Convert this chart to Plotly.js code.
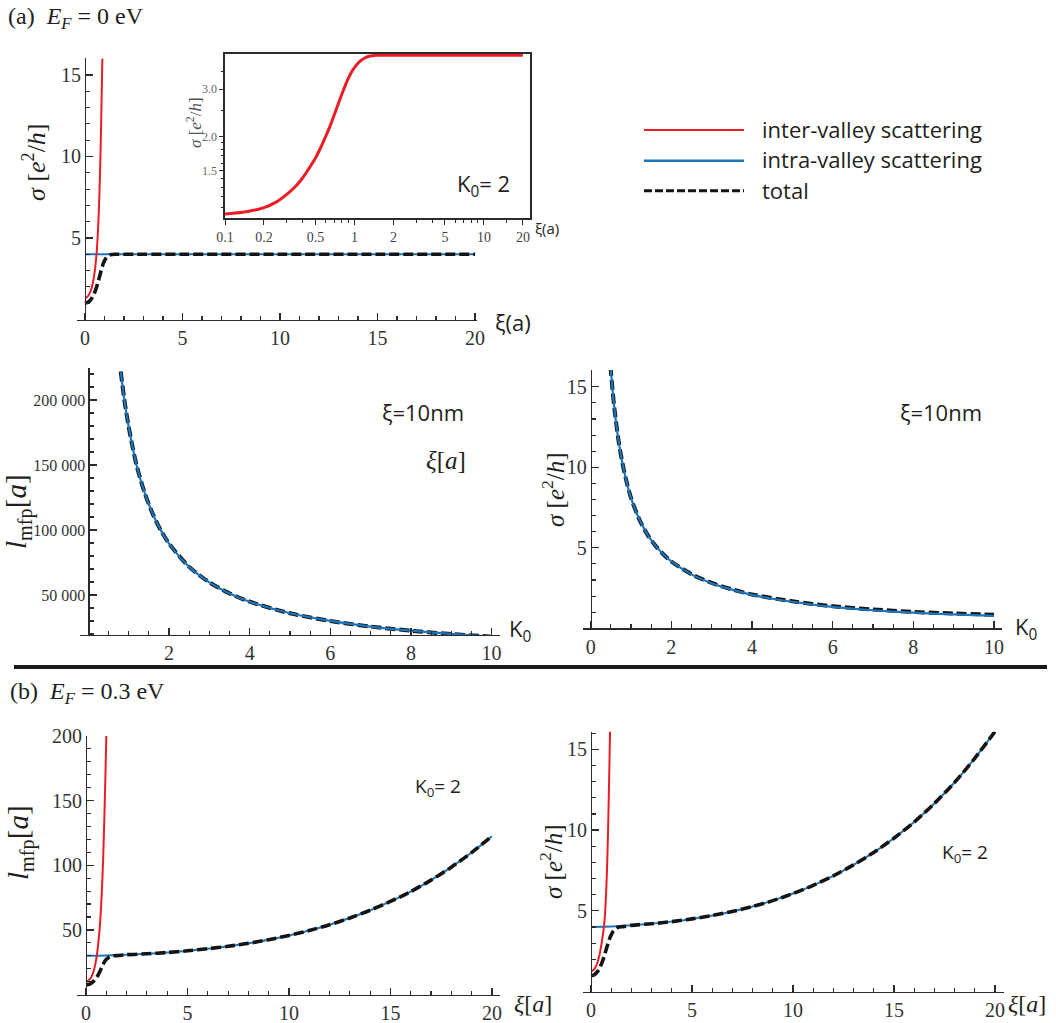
<!DOCTYPE html>
<html>
<head>
<meta charset="utf-8">
<script src="https://cdn.plot.ly/plotly-3.0.1.min.js"></script>
<style>
  html, body { margin: 0; padding: 0; background: #ffffff; }
  #chart { width: 1056px; height: 1023px; }
</style>
</head>
<body>
<div id="chart"></div>
<script>
// ---------- (a) E_F = 0 eV : sigma vs correlation length xi (K0 = 2) ----------
const xiInterA  = [0, 0.1, 0.2, 0.3, 0.4, 0.5, 0.6, 0.65, 0.7, 0.75, 0.8, 0.85, 0.89];
const sigInterA = [1.33, 1.37, 1.52, 1.78, 2.22, 2.96, 4.15, 5.1, 6.4, 8.1, 10.4, 13.4, 16.0];

const xiIntraA  = [0, 5, 10, 15, 20];
const sigIntraA = [4.0, 4.0, 4.0, 4.0, 4.0];

const xiTotalA  = [0, 0.1, 0.15, 0.2, 0.25, 0.3, 0.35, 0.4, 0.45, 0.5, 0.55, 0.6, 0.65, 0.7, 0.75,
                   0.8, 0.85, 0.9, 0.95, 1.0, 1.1, 1.2, 1.3, 1.4, 1.5, 1.7, 2, 3, 5, 10, 15, 20];
const sigTotalA = [1.0, 1.037, 1.06, 1.095, 1.15, 1.225, 1.31, 1.415, 1.54, 1.67, 1.83, 2.01, 2.20, 2.42, 2.65,
                   2.88, 3.10, 3.30, 3.47, 3.60, 3.80, 3.91, 3.97, 3.99, 4.0, 4.0, 4.0, 4.0, 4.0, 4.0, 4.0, 4.0];

// ---------- (a) K0 dependence at xi = 10 nm ----------
const k0L        = [0.8, 0.9, 1.0, 1.1, 1.2, 1.4, 1.6, 1.8, 2.0, 2.5, 3.0, 3.5, 4.0, 5.0, 6.0, 7.0, 8.0, 9.0, 10.0];
const lmfpIntraK = [222000, 198000, 179000, 163000, 149000, 128000, 112000, 99500, 89500, 71600, 59700,
                    51200, 44800, 35900, 30000, 25700, 22500, 20000, 17900];
const lmfpTotalK = [222000, 198000, 179000, 163000, 149000, 128000, 112000, 99500, 89500, 71600, 59700,
                    51200, 44800, 35900, 30000, 25700, 22500, 20000, 17900];

const k0S       = [0.49, 0.55, 0.6, 0.7, 0.8, 0.9, 1.0, 1.2, 1.4, 1.6, 1.8, 2.0, 2.5, 3.0, 3.5, 4.0,
                   5.0, 6.0, 7.0, 8.0, 9.0, 10.0];
const sigIntraK = [16.3, 14.6, 13.4, 11.5, 10.1, 9.0, 8.1, 6.8, 5.85, 5.15, 4.6, 4.15, 3.35, 2.8, 2.4, 2.08,
                   1.65, 1.33, 1.12, 0.97, 0.86, 0.77];
const sigTotalK = [16.3, 14.6, 13.4, 11.5, 10.1, 9.0, 8.1, 6.8, 5.85, 5.15, 4.6, 4.15, 3.36, 2.82, 2.42, 2.1,
                   1.68, 1.37, 1.17, 1.02, 0.92, 0.84];

// ---------- (b) E_F = 0.3 eV : l_mfp and sigma vs xi (K0 = 2) ----------
const xiInterB = [0, 0.1, 0.2, 0.3, 0.4, 0.5, 0.6, 0.7, 0.8, 0.85, 0.9, 0.95, 1.0];
const lInterB  = [10.0, 10.5, 12.0, 14.8, 19.5, 27.0, 39.0, 57.0, 87.0, 108.0, 135.0, 165.0, 200.0];

const xiInterBs = [0, 0.1, 0.2, 0.3, 0.4, 0.5, 0.6, 0.65, 0.7, 0.75, 0.8, 0.85, 0.9, 0.95];
const sigInterB = [1.27, 1.31, 1.45, 1.72, 2.15, 2.8, 3.6, 4.1, 4.9, 6.1, 7.8, 10.2, 13.2, 16.5];

const xiB       = [0, 1, 2, 3, 4, 5, 6, 7, 8, 9, 10, 11, 12, 13, 14, 15, 16, 17, 18, 19, 20];
const lIntraB   = [30.0, 30.2, 30.8, 31.5, 32.5, 33.8, 35.4, 37.3, 39.6, 42.4, 45.7, 49.5, 54.0, 59.2,
                   65.2, 72.0, 79.6, 88.5, 98.5, 109.8, 122.5];
const sigIntraB = [4.0, 4.03, 4.1, 4.2, 4.33, 4.5, 4.71, 4.96, 5.27, 5.63, 6.07, 6.58, 7.17, 7.85,
                   8.62, 9.5, 10.5, 11.65, 12.95, 14.45, 16.1];

const xiTotalB  = [0, 0.1, 0.2, 0.3, 0.4, 0.5, 0.6, 0.7, 0.8, 0.9, 1.0, 1.1, 1.2, 1.3, 1.4, 1.6,
                   2, 3, 4, 5, 6, 7, 8, 9, 10, 11, 12, 13, 14, 15, 16, 17, 18, 19, 20];
const lTotalB   = [7.6, 7.8, 8.3, 9.3, 10.7, 12.6, 15.2, 18.4, 21.9, 25.0, 27.2, 28.5, 29.3, 29.8, 30.0, 30.2,
                   30.8, 31.5, 32.5, 33.8, 35.4, 37.3, 39.6, 42.4, 45.7, 49.5, 54.0, 59.2, 65.2, 72.0,
                   79.6, 88.5, 98.5, 109.8, 122.5];
const sigTotalB = [0.97, 1.0, 1.07, 1.2, 1.38, 1.65, 1.98, 2.38, 2.8, 3.2, 3.5, 3.73, 3.88, 3.96, 4.0, 4.02,
                   4.1, 4.2, 4.33, 4.5, 4.71, 4.96, 5.27, 5.63, 6.07, 6.58, 7.17, 7.85, 8.62, 9.5,
                   10.5, 11.65, 12.95, 14.45, 16.1];

// ---------- inset tick labels ----------
const inXTicks = [0.1, 0.2, 0.5, 1, 2, 5, 10, 20];
const inXText  = ['0.1', '0.2', '0.5', '1', '2', '5', '10', '20'];
const inXMinor = [0.3, 0.4, 0.6, 0.7, 0.8, 0.9, 3, 4, 6, 7, 8, 9, 15];
const inYTicks = [1.5, 2.0, 3.0];
const inYText  = ['1.5', '2.0', '3.0'];
const inYMinor = [1.1, 1.2, 1.3, 1.4, 1.6, 1.7, 1.8, 1.9, 2.5, 3.5];

// ---------- styling helpers ----------
const W = 1056, H = 1023;
const fx = px => px / W;
const fy = py => 1 - py / H;
const RED = '#ec1c24', BLUE = '#1b75bc', BLACK = '#141414', AXC = '#2b2b2b';
const SERIF = 'Liberation Serif, DejaVu Serif, serif';
const SANS = 'Open Sans, Noto Sans, sans-serif';
const HIDE_ZERO = { '0': ' ' };

function mainX(domPx, range, dtick, minorDtick, anchor, hideZero) {
  const ax = {
    domain: [fx(domPx[0]), fx(domPx[1])], range: range, anchor: anchor,
    showline: true, linecolor: AXC, linewidth: 1.4,
    ticks: 'inside', ticklen: 7, tickwidth: 1.3, tickcolor: AXC,
    tickmode: 'linear', tick0: 0, dtick: dtick,
    minor: { ticks: 'inside', ticklen: 4, tickwidth: 1.1, tickcolor: AXC, tickmode: 'linear', dtick: minorDtick, tick0: 0 },
    showgrid: false, zeroline: false, fixedrange: true,
    tickfont: { family: SERIF, size: 20, color: '#333' }
  };
  if (hideZero) ax.labelalias = HIDE_ZERO;
  return ax;
}
function mainY(domPx, range, dtick, minorDtick, xDomPx, xRange, extra) {
  const x0 = fx(xDomPx[0]), x1 = fx(xDomPx[1]);
  const pos = x0 + (0 - xRange[0]) / (xRange[1] - xRange[0]) * (x1 - x0);
  return Object.assign({
    domain: [fy(domPx[1]), fy(domPx[0])], range: range, anchor: 'free', position: pos,
    showline: true, linecolor: AXC, linewidth: 1.4,
    ticks: 'inside', ticklen: 7, tickwidth: 1.3, tickcolor: AXC,
    tickmode: 'linear', tick0: 0, dtick: dtick,
    minor: { ticks: 'inside', ticklen: 4, tickwidth: 1.1, tickcolor: AXC, tickmode: 'linear', dtick: minorDtick, tick0: 0 },
    showgrid: false, zeroline: false, fixedrange: true, labelalias: HIDE_ZERO,
    tickfont: { family: SERIF, size: 20, color: '#333' }
  }, extra || {});
}
function line(x, y, xa, ya, color, width, dash) {
  return {
    type: 'scatter', mode: 'lines', x: x, y: y, xaxis: xa, yaxis: ya, hoverinfo: 'skip',
    line: { color: color, width: width, dash: dash || 'solid', shape: 'spline', smoothing: 0.8 }
  };
}
const DASH = '10px,4px';

// panel frames (pixel domains and ranges)
const P1x = [77, 477],     P1xr = [-0.41, 20.1],  P1y = [58, 319.5],   P1yr = [0, 16.04];
const P3x = [80, 499.6],   P3xr = [-0.21, 10.2],  P3y = [368.3, 635],  P3yr = [19200, 224400];
const P4x = [583, 1001.7], P4xr = [-0.19, 10.19], P4y = [370, 628.3],  P4yr = [0, 16.04];
const P5x = [77.3, 500],   P5xr = [-0.43, 20.4],  P5y = [736, 994.5],  P5yr = [0, 200];
const P6x = [583.3, 1004], P6xr = [-0.38, 20.45], P6y = [731.7, 991.5], P6yr = [0, 16.1];
const INx = [225, 530], INy = [54, 218.3];

const traces = [
  // (a) sigma vs xi
  line(xiIntraA, sigIntraA, 'x', 'y', BLUE, 2),
  line(xiInterA, sigInterA, 'x', 'y', RED, 2),
  line(xiTotalA, sigTotalA, 'x', 'y', BLACK, 3.6, DASH),
  // inset: total sigma on log-log axes
  line(xiTotalA.slice(1), sigTotalA.slice(1), 'x2', 'y2', RED, 3),
  // (a) l_mfp vs K0
  line(k0L, lmfpTotalK, 'x3', 'y3', BLACK, 4, DASH),
  line(k0L, lmfpIntraK, 'x3', 'y3', BLUE, 2.2),
  // (a) sigma vs K0
  line(k0S, sigTotalK, 'x4', 'y4', BLACK, 4, DASH),
  line(k0S, sigIntraK, 'x4', 'y4', BLUE, 2.2),
  // (b) l_mfp vs xi
  line(xiB, lIntraB, 'x5', 'y5', BLUE, 2),
  line(xiInterB, lInterB, 'x5', 'y5', RED, 2),
  line(xiTotalB, lTotalB, 'x5', 'y5', BLACK, 3.6, DASH),
  // (b) sigma vs xi
  line(xiB, sigIntraB, 'x6', 'y6', BLUE, 2),
  line(xiInterBs, sigInterB, 'x6', 'y6', RED, 2),
  line(xiTotalB, sigTotalB, 'x6', 'y6', BLACK, 3.6, DASH)
];

function ann(px, py, text, size, family, extra) {
  return Object.assign({
    xref: 'paper', yref: 'paper', x: fx(px), y: fy(py), text: text, showarrow: false,
    xanchor: 'left', yanchor: 'middle',
    font: { family: family || SANS, size: size || 20, color: '#231f20' }
  }, extra || {});
}
const sigmaLabel = '<i>σ</i> [<i>e</i><sup>2</sup>/<i>h</i>]';
const lmfpLabel = '<i>l</i><sub>mfp</sub>[<i>a</i>]';
const xiLabel = '<i>ξ</i>[<i>a</i>]';
const rot = { textangle: -90, xanchor: 'center' };

const annotations = [
  ann(6, 18, '(a)  <i>E</i><sub><i>F</i></sub> = 0 eV', 24, SERIF),
  ann(8, 693, '(b)  <i>E</i><sub><i>F</i></sub> = 0.3 eV', 24, SERIF),
  // axis titles
  ann(35, 162, sigmaLabel, 26, SERIF, rot),
  ann(194, 123, sigmaLabel, 17, SERIF, Object.assign({}, rot, { font: { family: SERIF, size: 17, color: '#555' } })),
  ann(18, 512, lmfpLabel, 29, SERIF, rot),
  ann(553, 490, sigmaLabel, 25, SERIF, rot),
  ann(20, 843, lmfpLabel, 29, SERIF, rot),
  ann(551, 862, sigmaLabel, 25, SERIF, rot),
  ann(493, 322, 'ξ(a)', 22),
  ann(533, 228, 'ξ(a)', 15),
  ann(507, 630, 'K<sub>0</sub>', 22),
  ann(1013, 628, 'K<sub>0</sub>', 22),
  ann(512, 1004, xiLabel, 24, SERIF),
  ann(1006, 1004, xiLabel, 24, SERIF),
  // in-plot notes
  ann(455, 185, 'K<sub>0</sub>= 2', 22),
  ann(380, 412, 'ξ=10nm', 22),
  ann(424, 460, xiLabel, 25, SERIF),
  ann(898, 412, 'ξ=10nm', 22),
  ann(413, 787, 'K<sub>0</sub>= 2', 19),
  ann(940, 853, 'K<sub>0</sub>= 2', 19),
  // legend entries
  ann(760, 129, 'inter-valley scattering', 22),
  ann(760, 159.5, 'intra-valley scattering', 22),
  ann(760, 189.5, 'total', 22)
];

function hline(x0, x1, y, color, width, dash) {
  return { type: 'line', xref: 'paper', yref: 'paper', x0: fx(x0), x1: fx(x1), y0: fy(y), y1: fy(y),
           line: { color: color, width: width, dash: dash || 'solid' } };
}
const shapes = [
  hline(14, 1047, 667, '#1a1a1a', 4),
  hline(644, 744, 130, RED, 2.2),
  hline(644, 744, 160.7, BLUE, 2.5),
  hline(644, 744, 190.7, BLACK, 3, '8px,3px')
];

const layout = {
  width: W, height: H,
  margin: { l: 0, r: 0, t: 0, b: 0 },
  paper_bgcolor: '#ffffff', plot_bgcolor: 'rgba(0,0,0,0)',
  showlegend: false,
  separators: '. ',
  xaxis: mainX(P1x, P1xr, 5, 1, 'y', false),
  yaxis: mainY(P1y, P1yr, 5, 1, P1x, P1xr),
  xaxis2: {
    domain: [fx(INx[0]), fx(INx[1])], type: 'log', range: [-1, 1.356], anchor: 'y2',
    showline: true, mirror: true, linecolor: AXC, linewidth: 1.6,
    ticks: 'outside', ticklen: 5, tickwidth: 1, tickcolor: AXC,
    tickmode: 'array', tickvals: inXTicks, ticktext: inXText,
    minor: { ticks: 'outside', ticklen: 3, tickwidth: 1, tickcolor: AXC, tickmode: 'array', tickvals: inXMinor },
    showgrid: false, zeroline: false, fixedrange: true,
    tickfont: { family: SERIF, size: 14, color: '#444' }
  },
  yaxis2: {
    domain: [fy(INy[1]), fy(INy[0])], type: 'log', range: [0, 0.607], anchor: 'x2',
    showline: true, mirror: true, linecolor: AXC, linewidth: 1.6,
    ticks: 'outside', ticklen: 4, tickwidth: 1, tickcolor: AXC,
    tickmode: 'array', tickvals: inYTicks, ticktext: inYText,
    minor: { ticks: 'outside', ticklen: 2.5, tickwidth: 1, tickcolor: AXC, tickmode: 'array', tickvals: inYMinor },
    showgrid: false, zeroline: false, fixedrange: true,
    tickfont: { family: SERIF, size: 12, color: '#666' }
  },
  xaxis3: mainX(P3x, P3xr, 2, 0.5, 'y3', true),
  yaxis3: mainY(P3y, P3yr, 50000, 10000, P3x, P3xr,
                { tickformat: ',d', tickfont: { family: SERIF, size: 16, color: '#333' } }),
  xaxis4: mainX(P4x, P4xr, 2, 0.5, 'y4', false),
  yaxis4: mainY(P4y, P4yr, 5, 1, P4x, P4xr),
  xaxis5: mainX(P5x, P5xr, 5, 1, 'y5', false),
  yaxis5: mainY(P5y, P5yr, 50, 10, P5x, P5xr),
  xaxis6: mainX(P6x, P6xr, 5, 1, 'y6', false),
  yaxis6: mainY(P6y, P6yr, 5, 1, P6x, P6xr),
  annotations: annotations,
  shapes: shapes
};

Plotly.newPlot('chart', traces, layout, { staticPlot: true, displayModeBar: false });
</script>
</body>
</html>
